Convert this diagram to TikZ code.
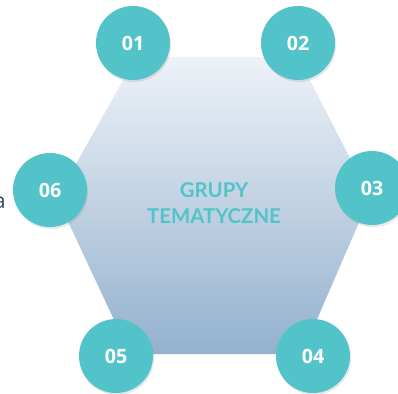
\documentclass[tikz,border=0pt]{standalone}
\usepackage{fontspec}
\setmainfont{Open Sans}
\newfontfamily\titlefont{Lato}
\usetikzlibrary{shadows}
\definecolor{tealc}{HTML}{52C3C9}
\definecolor{hextop}{HTML}{EEF2F8}
\definecolor{hexbot}{HTML}{93B1CD}
\definecolor{textgray}{HTML}{3A4656}

\begin{document}
\begin{tikzpicture}[x=0.025cm,y=-0.025cm]
  \tikzset{NumStyle/.style = {shape = circle,fill=tealc,minimum size=1.85cm,inner sep=0pt,
    text=white,font=\bfseries\fontsize{14}{16}\selectfont,
    drop shadow={opacity=0.18,shadow xshift=0.8pt,shadow yshift=-1.5pt}}}
\useasboundingbox (0,0) rectangle (398,393);
%
\shade[top color=hextop,bottom color=hexbot] (136,57) -- (298,57) -- (370,197) -- (302,354) -- (130,354) -- (57,198) -- cycle;
\node[text=tealc,font=\titlefont\bfseries\fontsize{14.5}{18.5}\selectfont,align=center] (title) at (214,203) {GRUPY\\TEMATYCZNE};
\node[text=textgray,font=\fontsize{15}{18}\selectfont,anchor=base east,inner sep=0pt] (side) at (6,208) {a};
%
\node[NumStyle] (n1) at (133,43) {01};
\node[NumStyle] (n2) at (298,43) {02};
\node[NumStyle] (n3) at (372,188) {03};
\node[NumStyle] (n4) at (313,356) {04};
\node[NumStyle] (n5) at (116,356) {05};
\node[NumStyle] (n6) at (50,190) {06};
\end{tikzpicture}
\end{document}
